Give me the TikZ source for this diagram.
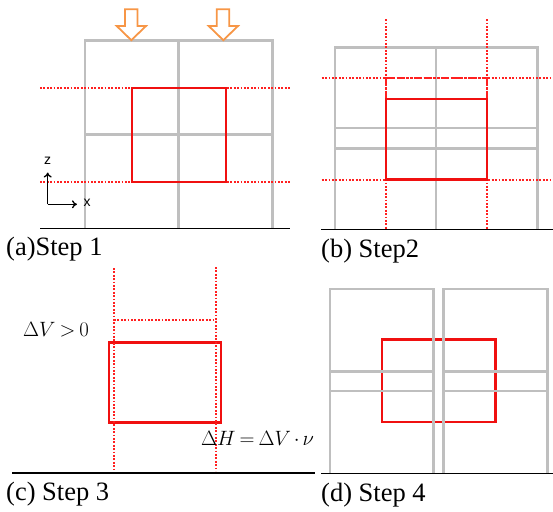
\documentclass[tikz,border=0pt]{standalone}
\usepackage{fontspec}
\usetikzlibrary{arrows.meta}
\setmainfont{Liberation Serif}
\newfontfamily\axisfont{Liberation Sans}
\definecolor{gridgray}{HTML}{BFBFBF}
\definecolor{boxred}{HTML}{F01010}
\definecolor{dotred}{HTML}{FF2020}
\definecolor{arroworange}{HTML}{F79646}
\tikzset{
  gridline/.style={draw=gridgray, line width=2.6pt},
  redbox/.style={draw=boxred, line width=2.4pt},
  reddot/.style={draw=dotred, line width=1.8pt, dash pattern=on 1.8pt off 1.6pt},
  olddot/.style={draw=dotred, line width=2pt, dash pattern=on 3pt off 1.5pt},
  ground/.style={draw=black, line width=1.4pt},
  loadarrow/.style={draw=arroworange, line width=1.8pt, fill=white, line join=miter},
  caption/.style={anchor=base west, inner sep=0pt, font=\fontsize{26.5}{30}\selectfont},
  mathlabel/.style={anchor=base west, inner sep=0pt, font=\fontsize{20}{24}\selectfont},
  axislabel/.style={inner sep=0pt, font=\axisfont\fontsize{14}{16}\selectfont},
  axisarrow/.style={draw=black, line width=1.3pt, -{To[length=5pt,width=8pt]}}
}
\thickmuskip=3.5mu plus 2mu
\medmuskip=2.5mu plus 1mu
\begin{document}
\begin{tikzpicture}[x=1pt, y=-1pt]
\useasboundingbox (0,0) rectangle (553,511);

% ---------- (a) Step 1 ----------
\draw[gridline] (85,228) -- (85,40.7) -- (272.7,40.7) -- (272.7,228);
\draw[gridline] (178.3,40.7) -- (178.3,228);
\draw[gridline] (85,134.7) -- (272.7,134.7);
\draw[reddot] (40,87.7) -- (290,87.7);
\draw[reddot] (40,181.7) -- (290,181.7);
\draw[redbox] (131.7,87.7) rectangle (225.7,181.7);
\draw[ground] (40,228.3) -- (290,228.3);
\draw[loadarrow] (125,9.3) -- (137.5,9.3) -- (137.5,26) -- (146,26) -- (131.3,40.2) -- (116.7,26) -- (125,26) -- cycle;
\draw[loadarrow] (216.7,9.3) -- (229.3,9.3) -- (229.3,26) -- (238,26) -- (223.3,40.2) -- (208.7,26) -- (216.7,26) -- cycle;
\coordinate (O) at (47.7,204.3);
\coordinate (Zt) at (47.7,172.5);
\coordinate (Xt) at (77,204.3);
\draw[axisarrow] (O) -- (Zt);
\draw[axisarrow] (O) -- (Xt);
\node[axislabel] (zlab) at (47.7,160.5) {z};
\node[axislabel] (xlab) at (87,202.5) {x};
\node[caption] (capa) at (6,255.7) {(a)Step 1};

% ---------- (b) Step2 ----------
\draw[gridline] (335,229) -- (335,47.7) -- (537.7,47.7) -- (537.7,229);
\draw[gridline] (436,47.7) -- (436,229);
\draw[gridline] (335,128) -- (537.7,128);
\draw[gridline] (335,148.6) -- (537.7,148.6);
\draw[reddot] (385.7,19.3) -- (385.7,229);
\draw[reddot] (486.7,19.3) -- (486.7,229);
\draw[reddot] (321.7,78) -- (553,78);
\draw[reddot] (321.7,179.7) -- (553,179.7);
\draw[olddot] (385.7,98.7) -- (385.7,78) -- (486.7,78) -- (486.7,98.7);
\draw[redbox] (385.7,98.7) rectangle (486.7,179.3);
\draw[ground] (321,229.3) -- (553,229.3);
\node[caption] (capb) at (321,257.7) {(b) Step2};

% ---------- (c) Step 3 ----------
\draw[redbox] (109,342.3) rectangle (220.7,422.3);
\draw[reddot] (114,268) -- (114,471);
\draw[reddot] (216,267) -- (216,471);
\draw[reddot] (114,320) -- (216,320);
\draw[ground] (12.3,473) -- (315,473);
\node[mathlabel] (dv) at (23,336) {$\Delta V > 0$};
\node[mathlabel] (dh) at (201,445) {$\Delta H = \Delta V \cdot \nu$};
\node[caption] (capc) at (6,500) {(c) Step 3};

% ---------- (d) Step 4 ----------
\draw[redbox] (381.7,339.3) rectangle (495.3,422);
\draw[gridline] (330,473) -- (330,289) -- (433.3,289) -- (433.3,473);
\draw[gridline] (443.3,473) -- (443.3,289) -- (547.3,289) -- (547.3,473);
\draw[gridline] (330,371.3) -- (433.3,371.3);
\draw[gridline] (330,391) -- (433.3,391);
\draw[gridline] (443.3,371.3) -- (547.3,371.3);
\draw[gridline] (443.3,391) -- (547.3,391);
\draw[ground] (321,473.3) -- (553,473.3);
\node[caption] (capd) at (321,501.7) {(d) Step 4};
\end{tikzpicture}
\end{document}
